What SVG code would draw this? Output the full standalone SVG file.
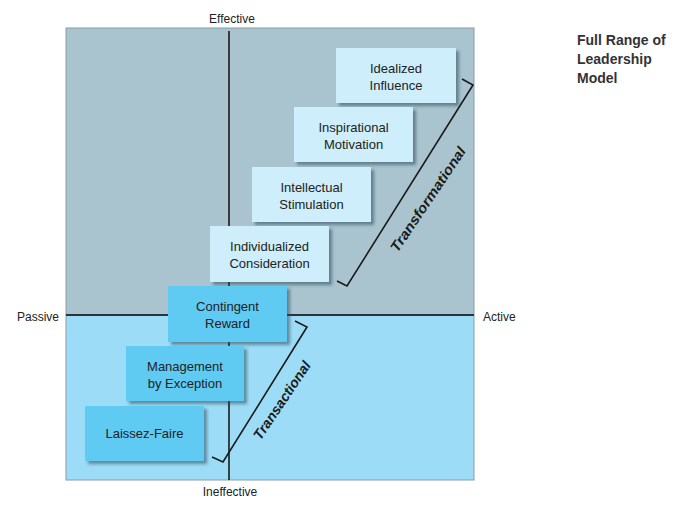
<svg xmlns="http://www.w3.org/2000/svg" width="687" height="506" viewBox="0 0 687 506">
<defs>
<filter id="sh" x="-10%" y="-10%" width="130%" height="140%">
<feDropShadow dx="3" dy="3" stdDeviation="1.5" flood-color="#2a4a5a" flood-opacity="0.55"/>
</filter>
<style>
.lt{fill:#cdeefa;filter:url(#sh)}
.dk{fill:#5ecaf2;filter:url(#sh)}
.bt{font-family:"Liberation Sans",Arial,sans-serif;font-size:13px;fill:#222;text-anchor:middle}
.ax{font-family:"Liberation Sans",Arial,sans-serif;font-size:12px;fill:#222}
.br{fill:none;stroke:#1a1a1a;stroke-width:1.6}
.bl{font-family:"Liberation Sans",Arial,sans-serif;font-size:14px;font-weight:bold;font-style:italic;fill:#1a1a1a;text-anchor:middle}
.ti{font-family:"Liberation Sans",Arial,sans-serif;font-size:14px;font-weight:bold;fill:#333}
</style>
</defs>
<rect x="0" y="0" width="687" height="506" fill="#ffffff"/>
<g id="background">
<rect x="66" y="28" width="408" height="288" fill="#a9c4cf"/>
<rect x="66" y="316" width="408" height="164" fill="#9ddcf6"/>
<rect x="66" y="28" width="408" height="452" fill="none" stroke="#8a9ca4" stroke-width="1"/>
</g>
<g id="axes">
<line x1="229" y1="31" x2="229" y2="480" stroke="#1a1a1a" stroke-width="1.6"/>
<line x1="66" y1="315" x2="474" y2="315" stroke="#2a3438" stroke-width="2"/>
<text class="ax" x="232" y="23" text-anchor="middle">Effective</text>
<text class="ax" x="230" y="496" text-anchor="middle">Ineffective</text>
<text class="ax" x="17" y="321">Passive</text>
<text class="ax" x="483" y="321">Active</text>
</g>
<g id="connectors">
<polyline class="br" points="462,79 473,85 347,286 337,281"/>
<polyline class="br" points="295,321 307,327 223,462 212,457"/>
<text class="bl" transform="translate(432,202) rotate(-56)" textLength="123" lengthAdjust="spacingAndGlyphs">Transformational</text>
<text class="bl" transform="translate(286,403) rotate(-56)">Transactional</text>
</g>
<g id="idealized-influence">
<rect class="lt" x="336" y="48" width="120" height="55"/>
<text class="bt" x="396" y="73">Idealized</text>
<text class="bt" x="396" y="90">Influence</text>
</g>
<g id="inspirational-motivation">
<rect class="lt" x="294" y="107" width="119" height="55"/>
<text class="bt" x="353.5" y="132">Inspirational</text>
<text class="bt" x="353.5" y="149">Motivation</text>
</g>
<g id="intellectual-stimulation">
<rect class="lt" x="252" y="167" width="119" height="55"/>
<text class="bt" x="311.5" y="192">Intellectual</text>
<text class="bt" x="311.5" y="209">Stimulation</text>
</g>
<g id="individualized-consideration">
<rect class="lt" x="210" y="226" width="119" height="56"/>
<text class="bt" x="269.5" y="251">Individualized</text>
<text class="bt" x="269.5" y="268">Consideration</text>
</g>
<g id="contingent-reward">
<rect class="dk" x="168" y="286" width="119" height="56"/>
<text class="bt" x="227.5" y="311">Contingent</text>
<text class="bt" x="227.5" y="328">Reward</text>
</g>
<g id="management-by-exception">
<rect class="dk" x="126" y="346" width="118" height="55"/>
<text class="bt" x="185" y="371">Management</text>
<text class="bt" x="185" y="388">by Exception</text>
</g>
<g id="laissez-faire">
<rect class="dk" x="85" y="406" width="119" height="55"/>
<text class="bt" x="144.5" y="438">Laissez-Faire</text>
</g>
<g id="title">
<text class="ti" x="577" y="45">Full Range of</text>
<text class="ti" x="577" y="64">Leadership</text>
<text class="ti" x="577" y="83">Model</text>
</g>
</svg>
